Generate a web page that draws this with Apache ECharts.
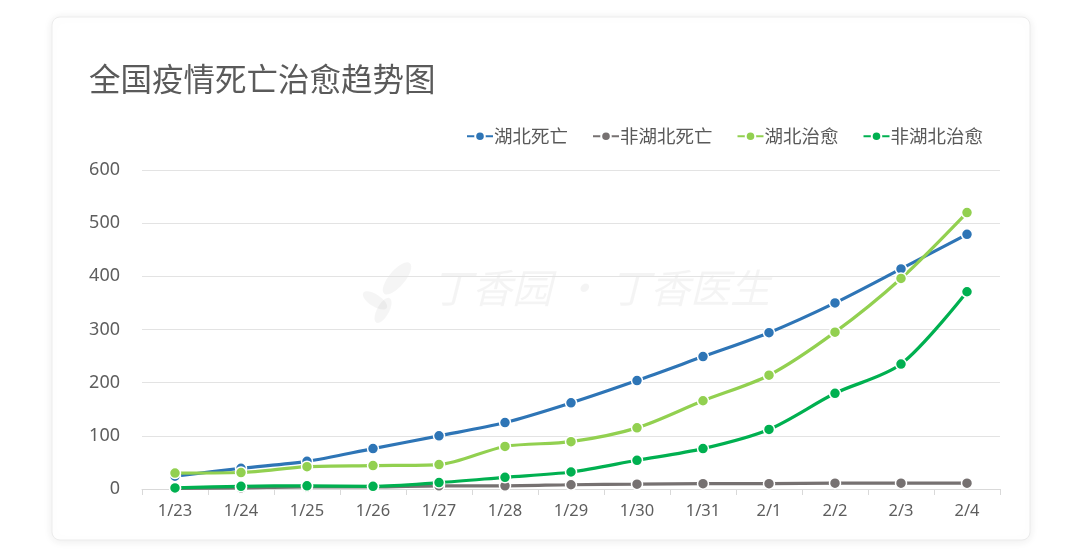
<!DOCTYPE html>
<html>
<head>
<meta charset="utf-8">
<script src="https://cdn.jsdelivr.net/npm/echarts@6/dist/echarts.min.js"></script>
<style>
html,body{margin:0;padding:0;background:#ffffff;}
#main{width:1080px;height:559px;}
</style>
</head>
<body>
<div id="main"></div>
<script>
const categories = ['1/23','1/24','1/25','1/26','1/27','1/28','1/29','1/30','1/31','2/1','2/2','2/3','2/4'];
const hubeiDeath = [24, 39, 52, 76, 100, 125, 162, 204, 249, 294, 350, 414, 479];
const otherDeath = [1, 2, 4, 4, 6, 6, 8, 9, 10, 10, 11, 11, 11];
const hubeiCured = [30, 31, 42, 44, 46, 80, 89, 115, 166, 214, 295, 396, 520];
const otherCured = [2, 5, 6, 5, 12, 22, 32, 54, 76, 112, 180, 235, 371];
const seriesNames = ['湖北死亡','非湖北死亡','湖北治愈','非湖北治愈'];
const seriesColors = ['#2e75b6','#767171','#92d050','#00b050'];
const yTicks = [0,100,200,300,400,500,600];

const chart = echarts.init(document.getElementById('main'), null, {renderer:'canvas'});
const font = '"Noto Sans CJK SC","Noto Sans",sans-serif';
const dataList = [hubeiDeath, otherDeath, hubeiCured, otherCured];

function mkSeries(i){
  return {
    name: seriesNames[i], type:'line', smooth:0.3, data:dataList[i],
    symbol:'circle', symbolSize:11,
    lineStyle:{width:3.2,color:seriesColors[i]},
    itemStyle:{color:seriesColors[i],borderColor:'#ffffff',borderWidth:1.5},
    z: 3
  };
}

chart.setOption({
  backgroundColor:'#ffffff',
  animation:false,
  textStyle:{fontFamily:font},
  graphic:[
    {type:'rect', z:-10, shape:{x:52,y:17,width:978,height:523,r:8},
     style:{fill:'#ffffff',stroke:'#ececec',lineWidth:1,shadowBlur:10,shadowColor:'rgba(0,0,0,0.08)',shadowOffsetY:1}},
    {type:'text', z:-5, left:432, top:268,
     style:{text:'丁香园 · 丁香医生', fill:'rgba(0,0,0,0.045)', font:'italic 40px "Noto Sans CJK SC"'}},
    {type:'group', z:-5, left:360, top:258, children:[
      {type:'ellipse', shape:{cx:42,cy:18,rx:8,ry:20}, rotation:-0.7, originX:42, originY:18, style:{fill:'rgba(0,0,0,0.04)'}},
      {type:'ellipse', shape:{cx:20,cy:40,rx:6,ry:14}, rotation:1.0, originX:20, originY:40, style:{fill:'rgba(0,0,0,0.04)'}},
      {type:'ellipse', shape:{cx:28,cy:50,rx:6,ry:14}, rotation:-0.5, originX:28, originY:50, style:{fill:'rgba(0,0,0,0.04)'}}
    ]}
  ],
  title:{
    text:'全国疫情死亡治愈趋势图', left:84, top:58,
    textStyle:{fontSize:31.5,fontWeight:'normal',color:'#5a5a5a',fontFamily:font}
  },
  legend:{
    right:92, top:122, itemWidth:26, itemHeight:12, itemGap:24,
    data:seriesNames,
    textStyle:{fontSize:18.5,color:'#595959',fontFamily:font, padding:[0,0,0,-4]}
  },
  grid:{left:142, right:80, top:170, bottom:70, containLabel:false},
  xAxis:{
    type:'category', data:categories, boundaryGap:true,
    axisLine:{lineStyle:{color:'#d9d9d9',width:1}},
    axisTick:{show:true,length:6,lineStyle:{color:'#d9d9d9'}},
    axisLabel:{fontSize:16.5,color:'#5e5e5e',margin:14,fontFamily:'"Noto Sans",sans-serif'}
  },
  yAxis:{
    type:'value', min:0, max:600, interval:100,
    axisLine:{show:false}, axisTick:{show:false},
    splitLine:{lineStyle:{color:'#e3e3e3',width:1}},
    axisLabel:{fontSize:18,color:'#5e5e5e',margin:22,fontFamily:'"Noto Sans",sans-serif'}
  },
  series:[mkSeries(1), mkSeries(0), mkSeries(2), mkSeries(3)]
});
chart.setOption({legend:{data:seriesNames}});
</script>
</body>
</html>
